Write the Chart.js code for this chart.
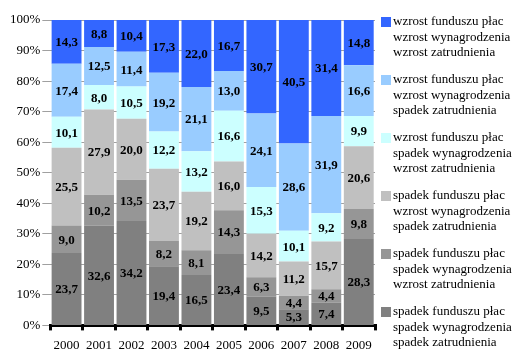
<!DOCTYPE html>
<html>
<head>
<meta charset="utf-8">
<script src="https://cdn.jsdelivr.net/npm/chart.js@4.4.1/dist/chart.umd.min.js"></script>
</head>
<body style="margin:0;background:#fff">
<div style="width:517px;height:349px"><canvas id="wykres" width="517" height="349"></canvas></div>
<script>
// Lata
const lata = ['2000', '2001', '2002', '2003', '2004', '2005', '2006', '2007', '2008', '2009'];

// Udzialy (%), od dolu slupka do gory
const sSpSpSp = [23.7, 32.6, 34.2, 19.4, 16.5, 23.4, 9.5, 5.3, 7.4, 28.3];
const sSpSpWz = [9.0, 10.2, 13.5, 8.2, 8.1, 14.3, 6.3, 4.4, 4.4, 9.8];
const sSpWzSp = [25.5, 27.9, 20.0, 23.7, 19.2, 16.0, 14.2, 11.2, 15.7, 20.6];
const sWzSpWz = [10.1, 8.0, 10.5, 12.2, 13.2, 16.6, 15.3, 10.1, 9.2, 9.9];
const sWzWzSp = [17.4, 12.5, 11.4, 19.2, 21.1, 13.0, 24.1, 28.6, 31.9, 16.6];
const sWzWzWz = [14.3, 8.8, 10.4, 17.3, 22.0, 16.7, 30.7, 40.5, 31.4, 14.8];

const etykiety = [
  'spadek funduszu płac\nspadek wynagrodzenia\nspadek zatrudnienia',
  'spadek funduszu płac\nspadek wynagrodzenia\nwzrost zatrudnienia',
  'spadek funduszu płac\nwzrost wynagrodzenia\nspadek zatrudnienia',
  'wzrost funduszu płac\nspadek wynagrodzenia\nwzrost zatrudnienia',
  'wzrost funduszu płac\nwzrost wynagrodzenia\nspadek zatrudnienia',
  'wzrost funduszu płac\nwzrost wynagrodzenia\nwzrost zatrudnienia'
];
const kolory = ['#808080', '#969696', '#C0C0C0', '#CCFFFF', '#99CCFF', '#3366FF'];
const serie = [sSpSpSp, sSpSpWz, sSpWzSp, sWzSpWz, sWzWzSp, sWzWzWz];

const FONT = 'Liberation Serif';

// Wartosci wpisane w segmenty slupkow
const wartosciPlugin = {
  id: 'wartosci',
  afterDatasetsDraw(chart) {
    const ctx = chart.ctx;
    ctx.save();
    ctx.font = 'bold 13px ' + FONT;
    ctx.fillStyle = '#000';
    ctx.textAlign = 'center';
    ctx.textBaseline = 'middle';
    chart.data.datasets.forEach((ds, i) => {
      chart.getDatasetMeta(i).data.forEach((bar, j) => {
        const y = (bar.y + bar.base) / 2;
        ctx.fillText(ds.data[j].toFixed(1).replace('.', ','), bar.x, y + 1);
      });
    });
    ctx.restore();
  }
};

// Legenda z opisami w trzech wierszach
const legendaPlugin = {
  id: 'legenda',
  afterDraw(chart) {
    const ctx = chart.ctx;
    const x0 = chart.chartArea.right + 6;
    ctx.save();
    ctx.font = '13px ' + FONT;
    ctx.textBaseline = 'middle';
    ctx.textAlign = 'left';
    const ds = chart.data.datasets.slice().reverse();
    ds.forEach((d, i) => {
      const y0 = 22 + i * 58;
      ctx.fillStyle = d.backgroundColor;
      ctx.fillRect(x0, y0 - 5, 10, 10);
      ctx.fillStyle = '#000';
      d.label.split('\n').forEach((linia, k) => {
        ctx.fillText(linia, x0 + 12, y0 + k * 15.5);
      });
    });
    ctx.restore();
  }
};

// kontekst programowy (bez akceleracji) - Chart.js uzyje tego samego
const canvas = document.getElementById('wykres');
const c0 = canvas.getContext('2d', { willReadFrequently: true });
c0.font = '13px ' + FONT;
c0.fillText('2000', 0, 20);

new Chart(canvas, {
  type: 'bar',
  data: {
    labels: lata,
    datasets: serie.map((s, i) => ({
      label: etykiety[i],
      data: s,
      backgroundColor: kolory[i],
      borderWidth: 0,
      barPercentage: 0.92,
      categoryPercentage: 1.0
    }))
  },
  options: {
    responsive: false,
    animation: false,
    layout: { padding: { top: 20, right: 142, left: 8, bottom: -11 } },
    plugins: {
      legend: { display: false },
      tooltip: { enabled: false }
    },
    scales: {
      x: {
        stacked: true,
        grid: {
          offset: true,
          drawOnChartArea: false,
          color: '#000',
          lineWidth: 3,
          tickLength: 5
        },
        border: { color: '#000', width: 3 },
        ticks: {
          color: '#000',
          font: { family: FONT, size: 13 },
          padding: 7,
          maxRotation: 0,
          minRotation: 0,
          autoSkip: false
        }
      },
      y: {
        stacked: true,
        min: 0,
        max: 100,
        ticks: {
          stepSize: 10,
          color: '#000',
          font: { family: FONT, size: 13 },
          padding: 2,
          callback: v => v + '%'
        },
        grid: { color: '#a0a0a0', lineWidth: 1, tickLength: 8 },
        border: { display: false }
      }
    }
  },
  plugins: [wartosciPlugin, legendaPlugin]
});
</script>
</body>
</html>
